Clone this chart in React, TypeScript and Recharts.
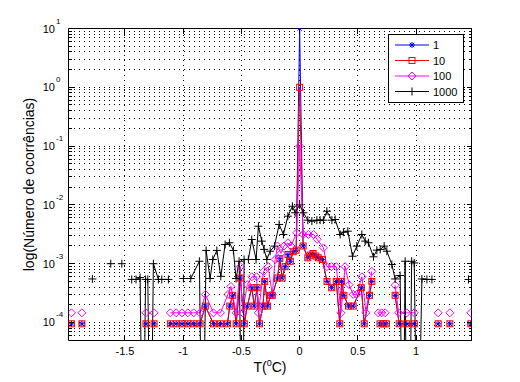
import React from 'react';
import { LineChart, Line, XAxis, YAxis, ReferenceLine, Legend } from 'recharts';

const FONT = '"Liberation Sans", Arial, Helvetica, sans-serif';

const seriesNames = ['1', '10', '100', '1000'];
const seriesColors = ['#0000ff', '#ff0000', '#ff00ff', '#000000'];
const seriesMarkers = ['star', 'square', 'diamond', 'plus'];

const xTicks = [-1.5, -1, -0.5, 0, 0.5, 1];
const xTickLabels = ['-1.5', '-1', '-0.5', '0', '0.5', '1'];
const yDecades = [1e-4, 1e-3, 1e-2, 1e-1, 1, 10];
const yDecadeExponents = ['-4', '-3', '-2', '-1', '0', '1'];
const minorBases = [1e-5, 1e-4, 1e-3, 1e-2, 1e-1, 1];
const minorMult = [2, 3, 4, 5, 6, 7, 8, 9];

const X_DOMAIN: [number, number] = [-1.985, 1.476];
const Y_DOMAIN: [number, number] = [4.94e-5, 10];
const Z = 1e-7; // empty bin: the line falls off the log axis

type P = [number, number] | null;

const s1: P[] = [
  [-1.96, 9.5e-5], null, [-1.87, 9.5e-5], null, [-1.32, 9.5e-5], null, [-1.25, 9.5e-5], null,
  [-1.11, 9.5e-5], [-1.06, 9.5e-5], [-1.01, 9.5e-5], [-0.96, 9.5e-5], [-0.91, 9.5e-5], [-0.855, 9.5e-5],
  [-0.81, 1.9e-4], [-0.74, 9.5e-5], [-0.68, 9.5e-5], [-0.62, 9.5e-5], [-0.6, 1.9e-4], [-0.575, 2.9e-4],
  [-0.545, 9.5e-5], [-0.51, 5.7e-4], [-0.475, 9.5e-5], [-0.45, 1.9e-4], [-0.41, 3.9e-4], [-0.39, 1.9e-4],
  [-0.365, 3.9e-4], [-0.345, 9.5e-5], [-0.315, 1.9e-4], [-0.3, 5.0e-4], [-0.275, 1.9e-4], [-0.25, 2.9e-4],
  [-0.235, 2.9e-4], [-0.19, 5.7e-4], [-0.17, 1.22e-3], [-0.15, 5.7e-4], [-0.125, 8.9e-4], [-0.1, 1.43e-3],
  [-0.08, 1.1e-3], [-0.055, 1.6e-3], [-0.03, 1.7e-3], [0, 10], [0.03, 2.0e-3], [0.07, 1.26e-3],
  [0.09, 1.4e-3], [0.115, 1.49e-3], [0.14, 1.35e-3], [0.16, 1.26e-3], [0.195, 1.18e-3], [0.235, 5.0e-4],
  [0.275, 3.9e-4], [0.315, 5.0e-4], [0.345, 9.5e-5], [0.36, 5.0e-4], [0.38, 2.9e-4], [0.42, 1.9e-4],
  [0.46, 1.9e-4], [0.53, 3.9e-4], [0.555, 9.5e-5], [0.6, 2.9e-4], [0.62, 5.0e-4], null,
  [0.69, 9.5e-5], [0.72, 9.5e-5], [0.745, 9.5e-5], null,
  [0.82, 2.9e-4], [0.855, 9.5e-5], [0.92, 9.5e-5], [0.985, 9.5e-5], null,
  [1.19, 9.5e-5], null, [1.29, 9.5e-5], null, [1.47, 9.5e-5],
];

const s10: P[] = [
  [-1.96, 9.5e-5], null, [-1.87, 9.5e-5], null, [-1.32, 9.5e-5], null, [-1.25, 9.5e-5], null,
  [-1.11, 9.5e-5], [-1.06, 9.5e-5], [-1.01, 9.5e-5], [-0.96, 9.5e-5], [-0.91, 9.5e-5], [-0.855, 9.5e-5],
  [-0.81, 1.9e-4], [-0.74, 9.5e-5], [-0.68, 9.5e-5], [-0.62, 9.5e-5], [-0.6, 1.9e-4], [-0.575, 2.9e-4],
  [-0.545, 9.5e-5], [-0.51, 5.7e-4], [-0.475, 9.5e-5], [-0.45, 1.9e-4], [-0.41, 3.9e-4], [-0.39, 1.9e-4],
  [-0.365, 3.9e-4], [-0.345, 9.5e-5], [-0.315, 1.9e-4], [-0.3, 5.0e-4], [-0.275, 1.9e-4], [-0.25, 2.9e-4],
  [-0.235, 2.9e-4], [-0.19, 5.7e-4], [-0.17, 1.22e-3], [-0.15, 5.7e-4], [-0.125, 8.9e-4], [-0.1, 1.43e-3],
  [-0.08, 1.1e-3], [-0.055, 1.6e-3], [-0.03, 1.7e-3], [0, 1], [0.03, 2.0e-3], [0.07, 1.26e-3],
  [0.09, 1.4e-3], [0.115, 1.49e-3], [0.14, 1.35e-3], [0.16, 1.26e-3], [0.195, 1.18e-3], [0.235, 5.0e-4],
  [0.275, 3.9e-4], [0.315, 5.0e-4], [0.345, 9.5e-5], [0.36, 5.0e-4], [0.38, 2.9e-4], [0.42, 1.9e-4],
  [0.46, 1.9e-4], [0.53, 3.9e-4], [0.555, 9.5e-5], [0.6, 2.9e-4], [0.62, 5.0e-4], null,
  [0.69, 9.5e-5], [0.72, 9.5e-5], [0.745, 9.5e-5], null,
  [0.82, 2.9e-4], [0.855, 9.5e-5], [0.92, 9.5e-5], [0.985, 9.5e-5], null,
  [1.19, 9.5e-5], null, [1.29, 9.5e-5], null, [1.47, 9.5e-5],
];

const s100: P[] = [
  [-1.96, 1.46e-4], null, [-1.87, 1.46e-4], null, [-1.32, 1.46e-4], null, [-1.25, 1.46e-4], null,
  [-1.11, 1.46e-4], [-1.06, 1.46e-4], [-1.01, 1.46e-4], [-0.96, 1.46e-4], [-0.91, 1.46e-4], [-0.855, 1.46e-4],
  [-0.81, 3.0e-4], [-0.74, 1.46e-4], [-0.68, 1.46e-4], [-0.615, 3.0e-4], [-0.59, 4.1e-4], [-0.545, 1.46e-4],
  [-0.51, 8.9e-4], [-0.49, 1.46e-4], [-0.45, 4.4e-4], [-0.41, 6.0e-4], [-0.37, 6.0e-4], [-0.355, 1.46e-4],
  [-0.31, 7.4e-4], [-0.27, 8.9e-4], [-0.235, 3.0e-4], [-0.21, 1.18e-3], [-0.19, 2.0e-3], [-0.16, 1.5e-3],
  [-0.135, 2.0e-3], [-0.1, 2.27e-3], [-0.075, 2.0e-3], [-0.025, 3.35e-3], [0, 0.1], [0.03, 3.14e-3],
  [0.075, 3.14e-3], [0.12, 3.14e-3], [0.15, 2.6e-3], [0.205, 1.86e-3], [0.235, 8.9e-4], [0.275, 8.9e-4],
  [0.315, 8.9e-4], [0.355, 1.46e-4], [0.39, 8.9e-4], [0.425, 4.4e-4], [0.46, 3.0e-4], [0.49, 3.0e-4],
  [0.535, 6.0e-4], [0.57, 1.46e-4], [0.62, 7.4e-4], null,
  [0.675, 1.46e-4], [0.705, 1.46e-4], [0.735, 1.46e-4], null,
  [0.82, 4.3e-4], [0.85, 1.46e-4], [0.92, 1.46e-4], [0.985, 1.46e-4], null,
  [1.19, 1.46e-4], null, [1.29, 1.46e-4], null, [1.47, 1.46e-4],
];

const s1000: P[] = [
  [-1.78, 5.5e-4], null, [-1.622, 1.0e-3], null, [-1.527, 1.0e-3], null,
  [-1.442, 5.4e-4], [-1.405, 5.4e-4], [-1.37, 5.8e-4], [-1.346, Z], [-1.323, 5.4e-4], [-1.304, 5.4e-4],
  [-1.28, Z], [-1.256, 1.0e-3], [-1.213, 5.4e-4], [-1.184, 5.4e-4], [-1.127, 5.4e-4], null,
  [-0.998, 5.6e-4], [-0.935, 5.6e-4], [-0.861, 1.1e-3], [-0.835, Z], [-0.803, 1.68e-3], [-0.769, 5.6e-4],
  [-0.746, 1.18e-3], [-0.711, 1.68e-3], [-0.677, 6.1e-4], [-0.64, 2.12e-3], [-0.603, 2.27e-3], [-0.569, 1.68e-3],
  [-0.546, 5.6e-4], [-0.52, 1.1e-3], [-0.488, Z], [-0.477, 1.18e-3], [-0.44, 1.18e-3], [-0.411, 2.58e-3],
  [-0.374, 1.18e-3], [-0.354, 4.34e-3], [-0.325, 2.42e-3], [-0.305, 1.75e-3], [-0.282, 1.18e-3], [-0.253, 1.63e-3],
  [-0.216, 1.99e-3], [-0.176, 4.65e-3], [-0.139, 3.14e-3], [-0.101, 6.43e-3], [-0.062, 9.5e-3], [-0.039, 7.34e-3],
  [0, 1.0e-2], [0.033, 7.34e-3], [0.07, 5.5e-3], [0.105, 5.3e-3], [0.148, 5.5e-3], [0.176, 5.5e-3],
  [0.204, 5.5e-3], [0.234, 7.8e-3], [0.277, 5.5e-3], [0.305, 5.64e-3], [0.348, 3.14e-3], [0.376, 3.43e-3],
  [0.414, 3.57e-3], [0.454, 1.34e-3], [0.491, 1.99e-3], [0.534, 3.14e-3], [0.563, 2.42e-3], [0.591, 2.27e-3],
  [0.634, 1.31e-3], [0.663, 1.7e-3], [0.692, 1.75e-3], [0.726, 1.99e-3], [0.749, 1.63e-3], [0.792, 9.7e-4],
  [0.82, 5.5e-4], [0.863, 6.3e-4], [0.887, Z], [0.906, 1.1e-3], [0.921, Z], [0.941, Z],
  [0.962, 1.1e-3], [0.984, 1.03e-3], [1.014, Z], [1.05, 5.5e-4], [1.093, 5.4e-4], [1.136, 5.4e-4], null,
  [1.45, 5.4e-4],
];

function build(points: P[]) {
  const out: { t: number; v: number | null }[] = [];
  let last = 0;
  for (const p of points) {
    if (p === null) out.push({ t: last, v: null });
    else {
      last = p[0];
      out.push({ t: p[0], v: p[1] });
    }
  }
  return out;
}

const allSeries = [s1, s10, s100, s1000].map(build);

const yMinor: number[] = [];
for (const b of minorBases) for (const m of minorMult) {
  const v = b * m;
  if (v >= Y_DOMAIN[0] && v < Y_DOMAIN[1]) yMinor.push(v);
}
const yTicks = [...yMinor, ...yDecades].sort((a, b) => a - b);

const decadeIndex = (v: number) => yDecades.findIndex((d) => Math.abs(d - v) / d < 1e-6);

function Marker({ kind, x, y }: { kind: string; x: number; y: number }) {
  switch (kind) {
    case 'star':
      return (
        <g stroke="#0000ff" strokeWidth={1} fill="none">
          <line x1={x - 3} x2={x + 3} y1={y} y2={y} />
          <line x1={x} x2={x} y1={y - 3} y2={y + 3} />
          <line x1={x - 2.2} x2={x + 2.2} y1={y - 2.2} y2={y + 2.2} />
          <line x1={x - 2.2} x2={x + 2.2} y1={y + 2.2} y2={y - 2.2} />
        </g>
      );
    case 'square':
      return <rect x={x - 3} y={y - 3} width={6} height={6} fill="none" stroke="#ff0000" strokeWidth={1} />;
    case 'diamond':
      return (
        <polygon
          points={`${x},${y - 4} ${x + 4},${y} ${x},${y + 4} ${x - 4},${y}`}
          fill="none"
          stroke="#ff00ff"
          strokeWidth={1}
        />
      );
    default:
      return (
        <g stroke="#000" strokeWidth={1}>
          <line x1={x - 4} x2={x + 4} y1={y} y2={y} />
          <line x1={x} x2={x} y1={y - 4} y2={y + 4} />
        </g>
      );
  }
}

const makeDot = (kind: string) => (p: any) => {
  const { cx, cy, value, index } = p;
  const key = `${kind}-${index}`;
  if (cx == null || cy == null || value == null || value < 1e-6) return <g key={key} />;
  return (
    <g key={key}>
      <Marker kind={kind} x={cx} y={cy} />
    </g>
  );
};

const YTickLeft = (p: any) => {
  const { x, y, payload } = p;
  const i = decadeIndex(payload.value);
  const len = i >= 0 ? 5 : 3;
  return (
    <g>
      <line x1={x} x2={x + len} y1={y} y2={y} stroke="#000" shapeRendering="crispEdges" />
      {i >= 0 && (
        <text x={x - 13.5} y={y + 4} textAnchor="end" fontSize={11} fontFamily={FONT} fill="#000">
          10
        </text>
      )}
      {i >= 0 && (
        <text x={x - 12.5} y={y - 5} fontSize={8} fontFamily={FONT} fill="#000">
          {yDecadeExponents[i]}
        </text>
      )}
    </g>
  );
};

const YTickRight = (p: any) => {
  const { x, y, payload } = p;
  const len = decadeIndex(payload.value) >= 0 ? 5 : 3;
  return <line x1={x} x2={x - len} y1={y} y2={y} stroke="#000" shapeRendering="crispEdges" />;
};

const XTickBottom = (p: any) => {
  const { x, y, payload } = p;
  const i = xTicks.indexOf(payload.value);
  return (
    <g>
      <line x1={x} x2={x} y1={y} y2={y - 5} stroke="#000" shapeRendering="crispEdges" />
      <text x={x} y={y + 14} textAnchor="middle" fontSize={11} fontFamily={FONT} fill="#000">
        {i >= 0 ? xTickLabels[i] : ''}
      </text>
    </g>
  );
};

const XTickTop = (p: any) => {
  const { x, y } = p;
  return <line x1={x} x2={x} y1={y} y2={y + 5} stroke="#000" shapeRendering="crispEdges" />;
};

const XTitle = (p: any) => {
  const vb = p.viewBox || { x: 68.5, width: 403, y: 340.5 };
  return (
    <text x={vb.x + vb.width / 2} y={vb.y + 31} textAnchor="middle" fontSize={14} fontFamily={FONT} fill="#000">
      T(
      <tspan dy={-6} fontSize={9}>
        0
      </tspan>
      <tspan dy={6}>C)</tspan>
    </text>
  );
};

const YTitle = (p: any) => {
  const vb = p.viewBox || { x: 0, y: 28.5, height: 312 };
  const cx = 34;
  const cy = vb.y + vb.height / 2;
  return (
    <text
      x={cx}
      y={cy}
      transform={`rotate(-90, ${cx}, ${cy})`}
      textAnchor="middle"
      fontSize={14}
      fontFamily={FONT}
      fill="#000"
    >
      log(Número de ocorrências)
    </text>
  );
};

const LegendBox = () => (
  <svg width={77} height={70} style={{ display: 'block' }}>
    <rect x={0.5} y={0.5} width={75} height={68} fill="#fff" stroke="#000" strokeWidth={1} />
    {seriesNames.map((name, i) => {
      const y = 11 + i * 15.5;
      return (
        <g key={name}>
          <line x1={7} x2={41} y1={y} y2={y} stroke={seriesColors[i]} strokeWidth={1} />
          <Marker kind={seriesMarkers[i]} x={24} y={y} />
          <text x={45} y={y + 4} fontSize={11} fontFamily={FONT} fill="#000">
            {name}
          </text>
        </g>
      );
    })}
  </svg>
);

export default function App() {
  return (
    <div style={{ position: 'absolute', left: 0, top: 0, width: 520, height: 382, background: '#fff' }}>
      <LineChart
        width={520}
        height={382}
        margin={{ top: 27.5, right: 47.5, bottom: 1.5, left: 0 }}
        style={{ fontFamily: FONT }}
      >
        <XAxis
          xAxisId="b"
          type="number"
          dataKey="t"
          domain={X_DOMAIN}
          allowDataOverflow
          ticks={xTicks}
          interval={0}
          height={40}
          tickSize={0}
          tickMargin={0}
          tickLine={false}
          axisLine={{ stroke: '#000' }}
          tick={(p: any) => <XTickBottom {...p} />}
          label={{ content: (p: any) => <XTitle {...p} /> }}
        />
        <XAxis
          xAxisId="t"
          orientation="top"
          type="number"
          dataKey="t"
          domain={X_DOMAIN}
          allowDataOverflow
          ticks={xTicks}
          interval={0}
          height={1}
          tickSize={0}
          tickMargin={0}
          tickLine={false}
          axisLine={{ stroke: '#000' }}
          tick={(p: any) => <XTickTop {...p} />}
        />
        <YAxis
          yAxisId="l"
          type="number"
          scale="log"
          domain={Y_DOMAIN}
          allowDataOverflow
          ticks={yTicks}
          interval={0}
          width={68.5}
          tickSize={0}
          tickMargin={0}
          tickLine={false}
          axisLine={{ stroke: '#000' }}
          tick={(p: any) => <YTickLeft {...p} />}
          label={{ content: (p: any) => <YTitle {...p} /> }}
        />
        <YAxis
          yAxisId="r"
          orientation="right"
          type="number"
          scale="log"
          domain={Y_DOMAIN}
          allowDataOverflow
          ticks={yTicks}
          interval={0}
          width={1}
          tickSize={0}
          tickMargin={0}
          tickLine={false}
          axisLine={{ stroke: '#000' }}
          tick={(p: any) => <YTickRight {...p} />}
        />
        {yTicks.map((v) => (
          <ReferenceLine
            key={`gy${v}`}
            xAxisId="b"
            yAxisId="l"
            y={v}
            stroke="#000"
            strokeWidth={1}
            strokeDasharray="1 4"
            shapeRendering="crispEdges"
          />
        ))}
        {xTicks.map((v) => (
          <ReferenceLine
            key={`gx${v}`}
            xAxisId="b"
            yAxisId="l"
            x={v}
            stroke="#000"
            strokeWidth={1}
            strokeDasharray="1 4"
            shapeRendering="crispEdges"
          />
        ))}
        {allSeries.map((d, i) => (
          <Line
            key={seriesNames[i]}
            name={seriesNames[i]}
            xAxisId="b"
            yAxisId="l"
            data={d}
            dataKey="v"
            type="linear"
            stroke={seriesColors[i]}
            strokeWidth={1}
            connectNulls={false}
            dot={makeDot(seriesMarkers[i])}
            activeDot={false}
            isAnimationActive={false}
          />
        ))}
        <Legend
          layout="vertical"
          align="center"
          verticalAlign="middle"
          content={() => <LegendBox />}
          wrapperStyle={{ left: 388, top: 34, width: 77, height: 70, right: 'auto', bottom: 'auto' }}
        />
      </LineChart>
    </div>
  );
}
